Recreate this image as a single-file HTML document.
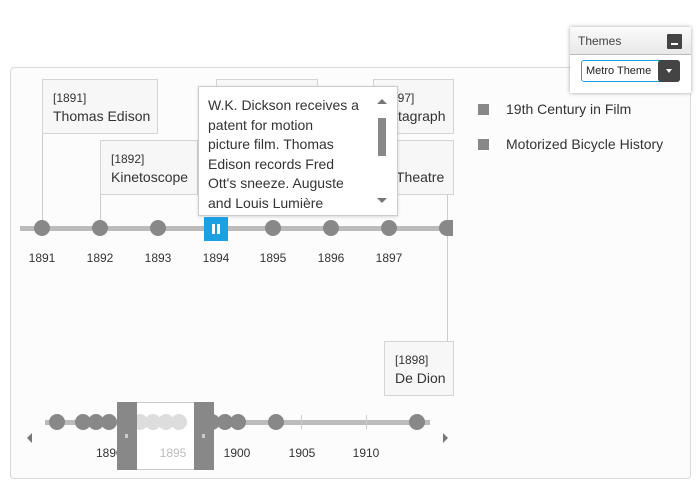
<!DOCTYPE html>
<html><head><style>
body{margin:0;width:700px;height:500px;background:#fff;font-family:"Liberation Sans",sans-serif;position:relative;overflow:hidden;color:#333}
.a{position:absolute}
.box{position:absolute;background:#f7f7f7;border:1px solid #d4d4d4;box-sizing:border-box;padding:10px 0 0 10px;font-size:14px;color:#333;line-height:19px;white-space:nowrap;overflow:hidden}
.box small{font-size:12px;display:block;line-height:17px}
.vl{position:absolute;width:1px;background:#ccc}
.dot{position:absolute;width:16px;height:16px;border-radius:50%;background:#888}
.lbl{position:absolute;font-size:12px;color:#333;width:40px;text-align:center}
</style></head><body>
<div class="a" style="left:10px;top:67px;width:679px;height:410px;border:1px solid #d8d8d8;border-radius:4px;background:#fcfcfc"></div>

<div class="vl" style="left:42px;top:133px;height:90px"></div>
<div class="vl" style="left:100px;top:195px;height:30px"></div>
<div class="vl" style="left:447px;top:195px;height:146px"></div>

<div class="box" style="left:42px;top:79px;width:116px;height:55px"><small>[1891]</small>Thomas Edison</div>
<div class="box" style="left:100px;top:140px;width:98px;height:55px"><small>[1892]</small>Kinetoscope</div>
<div class="box" style="left:216px;top:79px;width:102px;height:55px"></div>
<div class="box" style="left:373px;top:79px;width:81px;height:55px;padding:0">
<div class="a" style="left:17px;top:10px;font-size:12px;line-height:17px">397]</div>
<div class="a" style="left:24px;top:27px;line-height:19px">tagraph</div></div>
<div class="box" style="left:373px;top:140px;width:81px;height:55px;padding-left:22px"><small>&nbsp;</small>Theatre</div>

<div class="a" style="left:198px;top:86px;width:200px;height:130px;background:#fff;border:1px solid #ccc;box-sizing:border-box;overflow:hidden;box-shadow:0 1px 3px rgba(0,0,0,.15)">
<div class="a" style="left:9px;top:9px;white-space:nowrap;font-size:14px;line-height:19.5px;color:#333">W.K. Dickson receives a<br>patent for motion<br>picture film. Thomas<br>Edison records Fred<br>Ott's sneeze. Auguste<br>and Louis Lumière</div>
<div class="a" style="left:178px;top:12px;width:0;height:0;border-left:5px solid transparent;border-right:5px solid transparent;border-bottom:5px solid #777"></div>
<div class="a" style="left:179px;top:31px;width:8px;height:38px;background:#888"></div>
<div class="a" style="left:178px;top:111px;width:0;height:0;border-left:5px solid transparent;border-right:5px solid transparent;border-top:5px solid #777"></div>
</div>

<div class="a" style="left:20px;top:226px;width:433px;height:5px;background:#bbb"></div>
<div class="dot" style="left:34px;top:220px"></div>
<div class="dot" style="left:92px;top:220px"></div>
<div class="dot" style="left:150px;top:220px"></div>
<div class="a" style="left:204px;top:217px;width:24px;height:24px;background:#1ba1e2"><div class="a" style="left:8px;top:7px;width:3px;height:10px;background:#fff"></div><div class="a" style="left:13px;top:7px;width:3px;height:10px;background:#fff"></div></div>
<div class="dot" style="left:265px;top:220px"></div>
<div class="dot" style="left:323px;top:220px"></div>
<div class="dot" style="left:381px;top:220px"></div>
<div class="dot" style="left:439px;top:220px;width:14px;border-radius:8px 0 0 8px"></div>
<div class="lbl" style="left:22px;top:251px">1891</div>
<div class="lbl" style="left:80px;top:251px">1892</div>
<div class="lbl" style="left:138px;top:251px">1893</div>
<div class="lbl" style="left:196px;top:251px">1894</div>
<div class="lbl" style="left:253px;top:251px">1895</div>
<div class="lbl" style="left:311px;top:251px">1896</div>
<div class="lbl" style="left:369px;top:251px">1897</div>

<div class="box" style="left:384px;top:341px;width:70px;height:55px"><small>[1898]</small>De Dion</div>

<div class="a" style="left:478px;top:104px;width:11px;height:11px;background:#888"></div>
<div class="a" style="left:506px;top:101px;font-size:14px;color:#333">19th Century in Film</div>
<div class="a" style="left:478px;top:139px;width:11px;height:11px;background:#888"></div>
<div class="a" style="left:506px;top:136px;font-size:14px;color:#333">Motorized Bicycle History</div>

<!-- overview -->
<div class="a" style="left:45px;top:420px;width:385px;height:5px;background:#bbb"></div>
<div class="a" style="left:301px;top:415px;width:1px;height:14px;background:#ccc"></div>
<div class="a" style="left:366px;top:415px;width:1px;height:14px;background:#ccc"></div>
<div class="dot" style="left:49px;top:414px"></div>
<div class="dot" style="left:75px;top:414px"></div>
<div class="dot" style="left:88px;top:414px"></div>
<div class="dot" style="left:101px;top:414px"></div>
<div class="dot" style="left:204px;top:414px"></div>
<div class="dot" style="left:217px;top:414px"></div>
<div class="dot" style="left:230px;top:414px"></div>
<div class="dot" style="left:268px;top:414px"></div>
<div class="dot" style="left:409px;top:414px"></div>
<div class="a" style="left:137px;top:402px;width:57px;height:68px;background:#fff;border-top:1px solid #ccc;border-bottom:1px solid #ccc;box-sizing:border-box"></div>
<div class="dot" style="left:132px;top:414px;background:#ddd"></div>
<div class="dot" style="left:145px;top:414px;background:#ddd"></div>
<div class="dot" style="left:158px;top:414px;background:#ddd"></div>
<div class="dot" style="left:171px;top:414px;background:#ddd"></div>
<div class="a" style="left:117px;top:402px;width:20px;height:68px;background:#888"><div class="a" style="left:8px;top:32px;width:3px;height:4px;background:#ccc"></div></div>
<div class="a" style="left:194px;top:402px;width:20px;height:68px;background:#888"><div class="a" style="left:8px;top:32px;width:3px;height:4px;background:#ccc"></div></div>
<div class="lbl" style="left:96px;top:446px;width:21px;text-align:left;overflow:hidden;white-space:nowrap">1890</div>
<div class="lbl" style="left:153px;top:446px;color:#bbb">1895</div>
<div class="lbl" style="left:217px;top:446px">1900</div>
<div class="lbl" style="left:282px;top:446px">1905</div>
<div class="lbl" style="left:346px;top:446px">1910</div>
<div class="a" style="left:27px;top:433px;width:0;height:0;border-top:5px solid transparent;border-bottom:5px solid transparent;border-right:5px solid #777"></div>
<div class="a" style="left:443px;top:433px;width:0;height:0;border-top:5px solid transparent;border-bottom:5px solid transparent;border-left:5px solid #777"></div>

<!-- themes -->
<div class="a" style="left:570px;top:27px;width:121px;height:66px;background:#fff;box-shadow:0 0 4px rgba(0,0,0,.35)">
<div class="a" style="left:0;top:0;width:121px;height:27px;background:linear-gradient(#fafafa,#e8e8e8);border-bottom:1px solid #bbb"></div>
<div class="a" style="left:8px;top:7px;font-size:12px;color:#444">Themes</div>
<div class="a" style="left:97px;top:7px;width:15px;height:15px;background:#444;border-radius:1px"><div class="a" style="left:4px;top:9px;width:7px;height:2px;background:#fff"></div></div>
<div class="a" style="left:11px;top:33px;width:99px;height:22px;border:1px solid #1ba1e2;border-radius:3px;box-sizing:border-box;background:#fff"><div class="a" style="left:4px;top:4px;font-size:11px;color:#222">Metro Theme</div></div>
<div class="a" style="left:88px;top:33px;width:22px;height:22px;background:#444;border-radius:3px"><div class="a" style="left:8px;top:9px;width:0;height:0;border-left:3px solid transparent;border-right:3px solid transparent;border-top:4px solid #fff"></div></div>
</div>
</body></html>
